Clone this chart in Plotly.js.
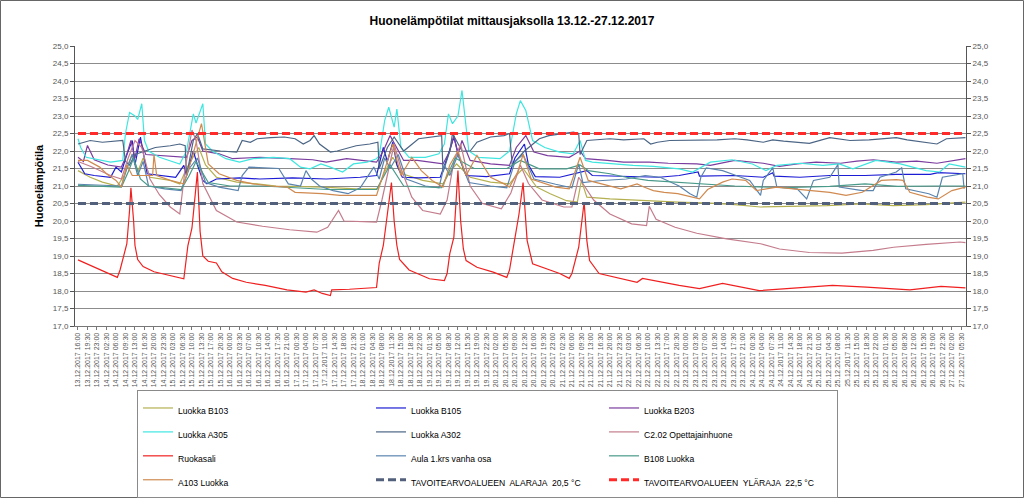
<!DOCTYPE html>
<html>
<head>
<meta charset="utf-8">
<script src="https://cdn.plot.ly/plotly-3.0.1.min.js"></script>
<style>html,body{margin:0;padding:0;background:#fff;}#chart{width:1024px;height:498px;}</style>
</head>
<body>
<div id="chart"></div>
<script>
const FONT = "'Liberation Sans Narrow','Arial Narrow','Liberation Sans',Arial,sans-serif";

const seriesNames = ["Luokka B103","Luokka B105","Luokka B203","Luokka A305","Luokka A302","C2.02 Opettajainhuone","Ruokasali","Aula 1.krs vanha osa","B108 Luokka","A103 Luokka"];
const seriesColors = ["#b4b050","#1c1cd4","#7a3c9e","#3fe6e0","#4b6585","#c47c8c","#f02020","#5a84ae","#4a9a8a","#d08a50"];
const limitNames = ["TAVOITEARVOALUEEN  ALARAJA  20,5 °C","TAVOITEARVOALUEEN  YLÄRAJA  22,5 °C"];
const limitValues = [20.5, 22.5];
const limitColors = ["#52607c","#ff2a2a"];

const b103 = [["2017-12-13 16:00",21.44],["2017-12-13 20:30",21.25],["2017-12-14 01:00",21.11],["2017-12-14 06:30",21.0],["2017-12-14 09:00",21.3],["2017-12-14 12:00",21.92],["2017-12-14 14:00",21.4],["2017-12-14 16:00",21.8],["2017-12-14 18:30",21.25],["2017-12-15 02:00",21.16],["2017-12-15 05:30",21.06],["2017-12-15 08:00",21.5],["2017-12-15 12:30",22.1],["2017-12-15 15:00",21.6],["2017-12-15 19:00",21.25],["2017-12-16 02:30",21.11],["2017-12-16 10:00",21.06],["2017-12-16 17:00",21.0],["2017-12-17 00:00",20.99],["2017-12-17 10:00",20.97],["2017-12-17 22:30",20.92],["2017-12-18 06:30",20.92],["2017-12-18 09:00",21.4],["2017-12-18 12:00",21.82],["2017-12-18 15:30",21.35],["2017-12-18 23:00",21.16],["2017-12-19 06:30",21.06],["2017-12-19 09:00",21.4],["2017-12-19 11:30",21.63],["2017-12-19 16:30",21.25],["2017-12-20 00:00",21.11],["2017-12-20 07:00",21.06],["2017-12-20 09:30",21.3],["2017-12-20 12:00",21.5],["2017-12-20 17:00",20.97],["2017-12-20 22:00",20.78],["2017-12-21 04:00",20.58],["2017-12-21 08:00",20.54],["2017-12-21 09:30",21.16],["2017-12-21 11:30",20.68],["2017-12-21 20:00",20.63],["2017-12-22 08:30",20.58],["2017-12-22 21:00",20.54],["2017-12-23 09:00",20.51],["2017-12-23 18:00",20.47],["2017-12-24 03:30",20.4],["2017-12-24 15:30",20.41],["2017-12-25 04:00",20.44],["2017-12-25 16:30",20.49],["2017-12-26 04:30",20.44],["2017-12-26 16:30",20.47],["2017-12-27 07:00",20.54]];

const b105 = [["2017-12-13 16:00",21.68],["2017-12-13 18:30",21.35],["2017-12-13 22:00",21.3],["2017-12-14 04:00",21.25],["2017-12-14 06:00",21.54],["2017-12-14 08:00",21.4],["2017-12-14 10:00",21.9],["2017-12-14 12:00",22.3],["2017-12-14 13:00",21.6],["2017-12-14 15:00",22.4],["2017-12-14 17:30",21.35],["2017-12-14 22:00",21.3],["2017-12-15 04:00",21.25],["2017-12-15 07:00",21.59],["2017-12-15 08:00",21.3],["2017-12-15 10:30",22.0],["2017-12-15 12:00",21.6],["2017-12-15 14:00",21.16],["2017-12-15 15:30",21.06],["2017-12-15 19:00",21.2],["2017-12-16 03:30",21.23],["2017-12-16 11:00",21.2],["2017-12-16 23:00",21.23],["2017-12-17 11:30",21.2],["2017-12-18 00:00",21.25],["2017-12-18 06:00",21.3],["2017-12-18 08:30",22.1],["2017-12-18 10:00",21.7],["2017-12-18 12:00",22.25],["2017-12-18 13:30",21.6],["2017-12-18 15:30",21.25],["2017-12-18 21:30",21.23],["2017-12-19 05:30",21.25],["2017-12-19 08:00",21.8],["2017-12-19 10:30",22.4],["2017-12-19 12:30",21.8],["2017-12-19 15:00",21.3],["2017-12-19 22:30",21.27],["2017-12-20 07:00",21.35],["2017-12-20 09:00",21.8],["2017-12-20 12:30",22.2],["2017-12-20 14:00",21.6],["2017-12-20 16:30",21.27],["2017-12-21 01:30",21.25],["2017-12-21 11:30",21.44],["2017-12-21 13:30",21.3],["2017-12-22 02:30",21.27],["2017-12-22 14:00",21.25],["2017-12-22 21:30",21.3],["2017-12-23 04:30",21.4],["2017-12-23 05:00",21.28],["2017-12-23 18:00",21.3],["2017-12-24 04:30",21.25],["2017-12-24 08:00",21.38],["2017-12-24 08:30",21.28],["2017-12-24 18:00",21.25],["2017-12-25 05:00",21.3],["2017-12-25 18:00",21.3],["2017-12-26 05:30",21.33],["2017-12-26 18:00",21.33],["2017-12-26 21:00",21.38],["2017-12-27 07:00",21.35]];

const b203 = [["2017-12-13 16:00",21.82],["2017-12-13 18:00",21.7],["2017-12-13 19:30",22.16],["2017-12-13 22:00",21.75],["2017-12-14 03:00",21.6],["2017-12-14 08:00",21.54],["2017-12-14 10:00",21.9],["2017-12-14 11:30",22.3],["2017-12-14 13:00",21.8],["2017-12-14 14:30",22.35],["2017-12-14 17:00",21.9],["2017-12-15 00:00",21.87],["2017-12-15 08:00",21.82],["2017-12-15 10:00",22.3],["2017-12-15 12:00",22.4],["2017-12-15 14:00",22.0],["2017-12-15 20:00",21.92],["2017-12-16 01:00",21.78],["2017-12-16 11:00",21.82],["2017-12-16 22:00",21.78],["2017-12-17 06:30",21.75],["2017-12-17 11:30",21.68],["2017-12-17 19:00",21.78],["2017-12-18 06:00",21.68],["2017-12-18 08:30",22.0],["2017-12-18 11:00",22.44],["2017-12-18 13:30",22.1],["2017-12-18 16:00",21.73],["2017-12-18 21:00",21.73],["2017-12-19 01:30",21.68],["2017-12-19 06:30",21.63],["2017-12-19 09:00",22.0],["2017-12-19 10:30",22.44],["2017-12-19 12:00",21.9],["2017-12-19 13:30",22.3],["2017-12-19 16:30",21.73],["2017-12-20 00:00",21.63],["2017-12-20 07:00",21.59],["2017-12-20 09:30",22.1],["2017-12-20 13:00",22.44],["2017-12-20 16:00",21.97],["2017-12-20 21:00",21.87],["2017-12-21 05:00",21.82],["2017-12-21 09:00",22.0],["2017-12-21 11:00",21.78],["2017-12-21 19:00",21.73],["2017-12-22 01:00",21.68],["2017-12-22 10:30",21.68],["2017-12-22 17:30",21.65],["2017-12-23 04:00",21.63],["2017-12-23 09:00",21.59],["2017-12-23 18:00",21.73],["2017-12-24 04:30",21.65],["2017-12-24 10:30",21.56],["2017-12-24 17:00",21.63],["2017-12-25 00:00",21.68],["2017-12-25 09:00",21.65],["2017-12-25 15:00",21.71],["2017-12-25 21:00",21.75],["2017-12-26 05:30",21.68],["2017-12-26 13:00",21.71],["2017-12-26 20:30",21.65],["2017-12-27 07:00",21.78]];

const a305 = [["2017-12-13 16:00",22.35],["2017-12-13 17:00",22.1],["2017-12-13 19:00",21.82],["2017-12-14 04:00",21.68],["2017-12-14 08:30",21.73],["2017-12-14 09:30",22.5],["2017-12-14 11:00",23.1],["2017-12-14 12:00",23.06],["2017-12-14 13:00",23.0],["2017-12-14 14:00",22.9],["2017-12-14 15:30",23.35],["2017-12-14 16:30",22.3],["2017-12-14 18:00",22.0],["2017-12-14 22:00",21.82],["2017-12-15 02:00",21.73],["2017-12-15 05:30",21.63],["2017-12-15 08:00",22.0],["2017-12-15 10:30",23.06],["2017-12-15 11:30",22.8],["2017-12-15 14:00",23.35],["2017-12-15 15:00",22.2],["2017-12-15 17:30",22.0],["2017-12-15 22:30",21.78],["2017-12-16 03:30",21.68],["2017-12-16 08:30",21.78],["2017-12-16 16:00",21.82],["2017-12-16 22:00",21.78],["2017-12-17 02:00",21.54],["2017-12-17 05:30",21.49],["2017-12-17 09:30",21.63],["2017-12-17 13:00",21.54],["2017-12-17 17:30",21.4],["2017-12-17 21:30",21.63],["2017-12-18 02:30",21.68],["2017-12-18 06:00",21.78],["2017-12-18 07:00",21.87],["2017-12-18 09:00",22.87],["2017-12-18 10:30",23.25],["2017-12-18 12:30",22.68],["2017-12-18 13:30",23.2],["2017-12-18 15:00",22.1],["2017-12-18 18:00",21.82],["2017-12-19 00:00",21.82],["2017-12-19 05:00",21.92],["2017-12-19 07:00",22.2],["2017-12-19 08:30",23.06],["2017-12-19 10:00",22.78],["2017-12-19 12:00",23.0],["2017-12-19 13:30",23.73],["2017-12-19 16:00",22.0],["2017-12-19 19:30",21.82],["2017-12-20 03:30",21.78],["2017-12-20 07:00",22.0],["2017-12-20 09:30",23.06],["2017-12-20 11:00",23.44],["2017-12-20 13:00",23.16],["2017-12-20 15:30",22.3],["2017-12-20 20:00",22.1],["2017-12-21 01:30",21.97],["2017-12-21 06:30",21.92],["2017-12-21 09:00",22.3],["2017-12-21 11:00",21.73],["2017-12-21 13:30",21.68],["2017-12-21 21:00",21.63],["2017-12-22 04:30",21.59],["2017-12-22 12:00",21.56],["2017-12-22 21:30",21.49],["2017-12-23 02:30",21.4],["2017-12-23 09:00",21.68],["2017-12-23 17:00",21.75],["2017-12-24 00:30",21.63],["2017-12-24 05:30",21.44],["2017-12-24 09:30",21.59],["2017-12-24 18:00",21.65],["2017-12-25 02:30",21.59],["2017-12-25 08:30",21.63],["2017-12-25 13:30",21.49],["2017-12-25 22:00",21.73],["2017-12-26 07:00",21.63],["2017-12-26 16:30",21.44],["2017-12-26 21:30",21.4],["2017-12-27 01:00",21.63],["2017-12-27 07:00",21.54]];

const a302 = [["2017-12-13 16:00",22.2],["2017-12-13 20:30",22.3],["2017-12-14 01:00",22.25],["2017-12-14 06:30",22.3],["2017-12-14 08:30",22.3],["2017-12-14 09:30",21.7],["2017-12-14 11:00",21.6],["2017-12-14 13:00",21.9],["2017-12-14 17:00",22.0],["2017-12-14 20:30",22.1],["2017-12-15 02:00",22.15],["2017-12-15 05:30",22.2],["2017-12-15 07:30",22.15],["2017-12-15 08:00",21.3],["2017-12-15 10:30",22.3],["2017-12-15 12:00",22.5],["2017-12-15 14:00",22.06],["2017-12-15 20:30",22.0],["2017-12-16 02:30",21.97],["2017-12-16 04:30",22.3],["2017-12-16 07:30",22.25],["2017-12-16 10:00",22.35],["2017-12-16 15:00",22.38],["2017-12-16 20:00",22.4],["2017-12-17 00:00",22.35],["2017-12-17 03:00",22.2],["2017-12-17 05:30",22.3],["2017-12-17 07:00",22.44],["2017-12-17 09:00",22.2],["2017-12-17 13:00",21.97],["2017-12-17 15:30",22.0],["2017-12-17 22:30",22.15],["2017-12-18 03:30",22.2],["2017-12-18 06:30",22.25],["2017-12-18 07:00",21.5],["2017-12-18 10:00",22.1],["2017-12-18 12:30",22.4],["2017-12-18 16:00",22.0],["2017-12-18 21:30",22.35],["2017-12-19 03:00",22.4],["2017-12-19 06:00",22.44],["2017-12-19 06:30",21.4],["2017-12-19 09:00",22.0],["2017-12-19 10:00",22.5],["2017-12-19 13:30",22.0],["2017-12-19 16:30",22.0],["2017-12-19 19:00",22.25],["2017-12-20 00:00",22.4],["2017-12-20 05:00",22.44],["2017-12-20 07:00",22.5],["2017-12-20 08:00",21.6],["2017-12-20 12:30",22.0],["2017-12-20 18:00",22.35],["2017-12-20 21:30",22.44],["2017-12-21 03:00",22.5],["2017-12-21 06:30",22.54],["2017-12-21 08:30",22.5],["2017-12-21 09:00",21.9],["2017-12-21 11:30",22.3],["2017-12-21 15:00",22.32],["2017-12-21 20:00",22.35],["2017-12-22 01:00",22.32],["2017-12-22 08:30",22.35],["2017-12-22 11:00",22.2],["2017-12-22 13:30",22.25],["2017-12-22 18:00",22.3],["2017-12-23 04:00",22.3],["2017-12-23 11:30",22.32],["2017-12-23 18:00",22.35],["2017-12-23 22:30",22.32],["2017-12-24 04:30",22.25],["2017-12-24 08:00",22.32],["2017-12-24 12:00",22.28],["2017-12-24 21:30",22.22],["2017-12-25 05:00",22.38],["2017-12-25 12:30",22.3],["2017-12-25 19:30",22.32],["2017-12-26 05:30",22.38],["2017-12-26 09:30",22.32],["2017-12-26 20:30",22.2],["2017-12-27 00:00",22.35],["2017-12-27 07:00",22.38]];

const c202 = [["2017-12-13 16:00",21.7],["2017-12-13 21:00",21.55],["2017-12-14 04:00",21.3],["2017-12-14 08:00",21.2],["2017-12-14 10:30",21.8],["2017-12-14 13:00",22.3],["2017-12-14 15:30",22.1],["2017-12-14 18:30",21.2],["2017-12-14 22:00",20.75],["2017-12-15 02:00",20.4],["2017-12-15 05:30",20.2],["2017-12-15 07:30",21.5],["2017-12-15 10:00",22.6],["2017-12-15 11:30",22.3],["2017-12-15 14:00",21.07],["2017-12-15 19:00",20.3],["2017-12-16 02:30",19.97],["2017-12-16 12:00",19.85],["2017-12-16 22:00",19.75],["2017-12-17 08:00",19.68],["2017-12-17 12:00",19.82],["2017-12-17 16:00",20.3],["2017-12-17 18:00",20.0],["2017-12-18 06:00",19.97],["2017-12-18 08:00",20.6],["2017-12-18 10:30",21.5],["2017-12-18 12:30",22.2],["2017-12-18 15:00",21.5],["2017-12-18 19:00",20.68],["2017-12-18 23:00",20.3],["2017-12-19 05:30",20.2],["2017-12-19 08:00",20.6],["2017-12-19 10:30",21.7],["2017-12-19 13:00",22.2],["2017-12-19 16:30",21.0],["2017-12-19 21:00",20.5],["2017-12-20 04:00",20.35],["2017-12-20 07:30",20.8],["2017-12-20 11:00",21.6],["2017-12-20 14:00",21.07],["2017-12-20 19:00",20.6],["2017-12-21 03:00",20.4],["2017-12-21 06:00",20.4],["2017-12-21 08:30",21.25],["2017-12-21 10:30",21.0],["2017-12-21 14:00",20.6],["2017-12-21 20:00",20.2],["2017-12-22 04:00",19.92],["2017-12-22 09:30",19.87],["2017-12-22 10:30",20.42],["2017-12-22 13:00",20.05],["2017-12-22 20:00",19.82],["2017-12-23 04:00",19.65],["2017-12-23 15:00",19.49],["2017-12-24 03:30",19.35],["2017-12-24 10:30",19.2],["2017-12-24 21:30",19.1],["2017-12-25 09:30",19.08],["2017-12-25 21:00",19.16],["2017-12-26 04:30",19.25],["2017-12-26 16:30",19.33],["2017-12-27 05:00",19.4],["2017-12-27 07:00",19.38]];

const ruokasali = [["2017-12-13 16:00",18.89],["2017-12-14 06:30",18.39],["2017-12-14 07:30",18.6],["2017-12-14 09:00",19.1],["2017-12-14 10:00",19.35],["2017-12-14 11:00",20.3],["2017-12-14 11:30",20.95],["2017-12-14 12:30",20.0],["2017-12-14 13:00",19.3],["2017-12-14 14:00",18.9],["2017-12-14 16:00",18.7],["2017-12-14 20:00",18.55],["2017-12-15 02:00",18.45],["2017-12-15 07:00",18.35],["2017-12-15 08:30",19.3],["2017-12-15 10:00",19.8],["2017-12-15 11:00",20.6],["2017-12-15 12:00",21.4],["2017-12-15 13:00",19.7],["2017-12-15 14:00",19.0],["2017-12-15 16:00",18.85],["2017-12-15 19:00",18.8],["2017-12-15 21:00",18.55],["2017-12-16 01:00",18.36],["2017-12-16 06:00",18.25],["2017-12-16 13:00",18.16],["2017-12-16 21:00",18.03],["2017-12-17 04:00",17.97],["2017-12-17 07:00",18.03],["2017-12-17 10:00",17.93],["2017-12-17 13:00",17.87],["2017-12-17 13:30",18.03],["2017-12-17 20:00",18.05],["2017-12-18 06:00",18.1],["2017-12-18 07:00",18.8],["2017-12-18 08:30",19.3],["2017-12-18 10:00",20.2],["2017-12-18 11:30",21.1],["2017-12-18 12:30",20.0],["2017-12-18 13:30",19.3],["2017-12-18 14:30",18.9],["2017-12-18 18:00",18.6],["2017-12-19 01:30",18.35],["2017-12-19 07:00",18.3],["2017-12-19 08:00",18.5],["2017-12-19 09:00",19.07],["2017-12-19 10:30",19.54],["2017-12-19 11:00",20.3],["2017-12-19 12:00",21.44],["2017-12-19 13:00",20.0],["2017-12-19 14:00",19.2],["2017-12-19 15:00",18.87],["2017-12-19 19:00",18.68],["2017-12-20 01:00",18.54],["2017-12-20 06:00",18.39],["2017-12-20 07:00",18.6],["2017-12-20 09:30",19.82],["2017-12-20 10:30",20.2],["2017-12-20 12:00",21.1],["2017-12-20 13:30",19.44],["2017-12-20 15:30",18.78],["2017-12-20 20:30",18.64],["2017-12-21 01:30",18.5],["2017-12-21 05:00",18.36],["2017-12-21 06:00",18.5],["2017-12-21 08:30",19.25],["2017-12-21 10:00",20.3],["2017-12-21 10:30",20.54],["2017-12-21 11:30",19.44],["2017-12-21 12:30",18.87],["2017-12-21 16:00",18.5],["2017-12-21 23:30",18.36],["2017-12-22 06:00",18.25],["2017-12-22 08:00",18.36],["2017-12-22 12:00",18.3],["2017-12-22 14:30",18.25],["2017-12-22 21:30",18.16],["2017-12-23 05:00",18.07],["2017-12-23 13:30",18.22],["2017-12-24 03:00",18.01],["2017-12-24 15:00",18.07],["2017-12-25 06:00",18.16],["2017-12-25 18:30",18.11],["2017-12-26 10:30",18.03],["2017-12-26 22:00",18.13],["2017-12-27 07:00",18.09]];

const aula = [["2017-12-13 16:00",21.05],["2017-12-14 08:00",21.0],["2017-12-14 10:00",21.5],["2017-12-14 12:00",21.9],["2017-12-14 14:00",21.3],["2017-12-14 16:00",21.7],["2017-12-14 18:00",21.0],["2017-12-15 00:00",20.92],["2017-12-15 06:00",20.87],["2017-12-15 09:00",21.5],["2017-12-15 12:00",21.8],["2017-12-15 15:00",21.1],["2017-12-15 20:00",20.97],["2017-12-16 03:00",20.87],["2017-12-16 04:30",21.3],["2017-12-16 07:00",21.54],["2017-12-16 18:00",21.5],["2017-12-16 21:30",21.06],["2017-12-17 02:00",21.0],["2017-12-17 04:00",21.44],["2017-12-17 06:00",21.2],["2017-12-17 09:00",21.0],["2017-12-17 14:00",20.87],["2017-12-17 19:30",20.78],["2017-12-18 00:00",20.95],["2017-12-18 05:00",21.54],["2017-12-18 07:00",21.2],["2017-12-18 09:00",21.8],["2017-12-18 11:00",21.5],["2017-12-18 14:00",21.9],["2017-12-18 17:00",21.2],["2017-12-19 00:00",21.0],["2017-12-19 05:00",20.95],["2017-12-19 07:00",21.6],["2017-12-19 09:00",21.3],["2017-12-19 12:00",21.9],["2017-12-19 16:00",21.1],["2017-12-20 00:00",21.0],["2017-12-20 06:00",20.95],["2017-12-20 09:00",21.7],["2017-12-20 12:00",21.9],["2017-12-20 16:00",21.2],["2017-12-21 00:00",21.05],["2017-12-21 06:00",20.95],["2017-12-21 08:30",21.63],["2017-12-21 10:00",21.1],["2017-12-21 16:00",21.15],["2017-12-22 02:00",21.2],["2017-12-22 09:00",21.3],["2017-12-22 14:30",21.25],["2017-12-22 21:30",21.0],["2017-12-23 01:30",20.78],["2017-12-23 04:00",20.68],["2017-12-23 05:30",21.25],["2017-12-23 07:30",21.52],["2017-12-23 13:30",21.44],["2017-12-23 18:30",21.3],["2017-12-23 23:30",21.16],["2017-12-24 03:30",20.73],["2017-12-24 04:30",21.16],["2017-12-24 08:00",21.52],["2017-12-24 09:30",20.97],["2017-12-24 17:00",20.92],["2017-12-24 20:30",20.63],["2017-12-24 23:00",21.16],["2017-12-25 05:00",21.25],["2017-12-25 08:00",21.61],["2017-12-25 08:30",20.97],["2017-12-25 17:00",20.87],["2017-12-25 21:00",20.87],["2017-12-25 23:30",21.25],["2017-12-26 05:30",21.4],["2017-12-26 07:30",21.52],["2017-12-26 09:00",20.92],["2017-12-26 17:30",20.78],["2017-12-26 20:30",20.68],["2017-12-26 22:30",21.25],["2017-12-27 06:00",21.35],["2017-12-27 06:30",20.92]];

const b108 = [["2017-12-13 16:00",21.02],["2017-12-14 08:00",20.97],["2017-12-14 10:30",21.4],["2017-12-14 12:30",21.8],["2017-12-14 15:00",21.2],["2017-12-14 18:00",21.0],["2017-12-15 06:00",20.9],["2017-12-15 09:00",21.3],["2017-12-15 11:30",21.7],["2017-12-15 16:00",21.1],["2017-12-16 00:00",21.0],["2017-12-16 12:00",21.0],["2017-12-17 00:00",20.95],["2017-12-17 12:00",20.9],["2017-12-18 06:00",20.9],["2017-12-18 11:00",21.6],["2017-12-18 16:00",21.0],["2017-12-19 06:00",20.95],["2017-12-19 11:00",21.8],["2017-12-19 18:00",21.5],["2017-12-20 06:00",21.5],["2017-12-20 11:00",21.73],["2017-12-20 18:00",21.49],["2017-12-21 04:00",21.49],["2017-12-21 09:00",21.6],["2017-12-21 12:00",21.44],["2017-12-21 20:00",21.35],["2017-12-22 02:00",21.25],["2017-12-22 10:00",21.16],["2017-12-22 20:00",21.11],["2017-12-23 09:00",21.06],["2017-12-23 18:00",21.0],["2017-12-24 12:00",20.95],["2017-12-25 05:00",20.99],["2017-12-25 18:00",21.06],["2017-12-26 06:00",20.99],["2017-12-26 20:00",21.0],["2017-12-27 07:00",21.0]];

const a103 = [["2017-12-13 16:00",21.73],["2017-12-13 19:30",21.73],["2017-12-14 00:00",21.54],["2017-12-14 02:30",21.35],["2017-12-14 06:00",21.16],["2017-12-14 08:00",20.97],["2017-12-14 10:00",21.6],["2017-12-14 12:00",21.3],["2017-12-14 19:30",21.3],["2017-12-14 20:00",21.9],["2017-12-14 21:00",21.3],["2017-12-15 02:00",21.16],["2017-12-15 07:00",21.06],["2017-12-15 10:00",21.8],["2017-12-15 13:30",22.78],["2017-12-15 16:00",21.63],["2017-12-15 20:00",21.35],["2017-12-16 02:30",21.16],["2017-12-16 08:30",21.06],["2017-12-16 15:00",21.0],["2017-12-16 21:00",20.97],["2017-12-17 00:00",20.82],["2017-12-17 10:00",20.78],["2017-12-17 16:30",20.73],["2017-12-18 06:00",20.73],["2017-12-18 09:00",21.5],["2017-12-18 12:00",22.2],["2017-12-18 15:00",21.3],["2017-12-18 19:00",21.82],["2017-12-18 22:30",21.44],["2017-12-19 02:30",21.16],["2017-12-19 06:30",20.97],["2017-12-19 09:00",21.6],["2017-12-19 12:00",22.0],["2017-12-19 15:00",21.3],["2017-12-19 19:00",21.87],["2017-12-20 00:00",21.25],["2017-12-20 05:00",21.06],["2017-12-20 07:00",20.97],["2017-12-20 10:00",21.4],["2017-12-20 12:00",21.9],["2017-12-20 15:00",21.2],["2017-12-21 00:00",20.97],["2017-12-21 05:00",20.92],["2017-12-21 09:00",21.82],["2017-12-21 12:00",21.16],["2017-12-22 00:00",20.92],["2017-12-22 06:00",21.06],["2017-12-22 08:30",20.97],["2017-12-22 12:00",20.87],["2017-12-22 16:00",20.82],["2017-12-22 21:00",20.78],["2017-12-23 02:00",20.68],["2017-12-23 05:00",20.63],["2017-12-23 08:00",20.9],["2017-12-23 13:30",21.11],["2017-12-23 17:00",21.2],["2017-12-23 22:00",21.16],["2017-12-24 02:00",20.87],["2017-12-24 09:30",20.97],["2017-12-24 15:30",20.92],["2017-12-25 05:00",20.82],["2017-12-25 11:00",20.73],["2017-12-25 17:00",20.82],["2017-12-26 00:00",21.16],["2017-12-26 05:30",21.18],["2017-12-26 08:00",21.16],["2017-12-26 10:30",20.82],["2017-12-26 17:00",20.68],["2017-12-26 21:00",20.63],["2017-12-27 02:00",20.87],["2017-12-27 07:00",20.97]];

const seriesData = [b103, b105, b203, a305, a302, c202, ruokasali, aula, b108, a103];

const startTime = "2017-12-13 16:00";
const endTime = "2017-12-27 07:00";

const legendLabel = t => '<span style="font-size:8.6px">' + t + '</span>';

const traces = seriesData.map((d, i) => ({
  type: 'scatter', mode: 'lines',
  x: d.map(p => p[0]), y: d.map(p => p[1]),
  name: legendLabel(seriesNames[i]),
  line: {color: seriesColors[i], width: 1.2},
  hoverinfo: 'skip'
}));

limitValues.forEach((v, i) => {
  traces.push({
    type: 'scatter', mode: 'lines', yaxis: 'y2',
    x: [startTime, endTime], y: [v, v],
    name: legendLabel(limitNames[i]),
    line: {color: limitColors[i], width: 3.2, dash: '8px,4px'},
    hoverinfo: 'skip'
  });
});

const tickFont = {family: FONT, size: 8, color: '#555'};

const layout = {
  width: 1024, height: 498,
  margin: {l: 75, r: 58, t: 46, b: 172, autoexpand: false},
  paper_bgcolor: '#fff', plot_bgcolor: '#fff',
  separators: ', ',
  showlegend: true,
  title: {text: 'Huonelämpötilat mittausjaksolla 13.12.-27.12.2017', x: 0.5, xanchor: 'center', y: 0.958, yanchor: 'middle',
          font: {family: FONT, size: 12, color: '#000', weight: 700}},
  xaxis: {
    type: 'date', range: ['2017-12-13 14:54', '2017-12-27 07:12'],
    tick0: startTime, dtick: 12600000, tickformat: '%d.%m.%Y %H:%M',
    tickangle: -90, tickfont: {family: "'Liberation Sans',Arial,sans-serif", size: 7, color: '#555'},
    showgrid: false, showline: true, linecolor: '#777', linewidth: 1,
    ticks: 'outside', ticklen: 3, tickcolor: '#777', zeroline: false, automargin: false, fixedrange: true
  },
  yaxis: {
    range: [17, 25], dtick: 0.5, tick0: 17, tickformat: '.1f',
    tickfont: tickFont, showgrid: true, gridcolor: '#8c8c8c', gridwidth: 1,
    showline: true, linecolor: '#555', linewidth: 1, ticks: 'outside', ticklen: 4, tickcolor: '#555',
    zeroline: false, automargin: false, fixedrange: true,
    title: {text: 'Huonelämpötila', font: {family: FONT, size: 11, color: '#000', weight: 700}, standoff: 6}
  },
  yaxis2: {
    overlaying: 'y', side: 'right', range: [17, 25], dtick: 0.5, tick0: 17, tickformat: '.1f',
    tickfont: tickFont, showgrid: false, showline: true, linecolor: '#555', linewidth: 1,
    ticks: 'outside', ticklen: 4, tickcolor: '#555', zeroline: false, automargin: false, fixedrange: true
  },
  legend: {
    orientation: 'h', x: 0.0696, xanchor: 'left', y: -0.2286, yanchor: 'top',
    bgcolor: '#fff', bordercolor: '#8a8a8a', borderwidth: 1,
    font: {family: FONT, size: 16.1, color: '#000'},
    entrywidth: 188, entrywidthmode: 'pixels', itemwidth: 30, traceorder: 'normal'
  },
  shapes: [{
    type: 'rect', xref: 'paper', yref: 'paper',
    x0: -74.5/891, x1: 948.5/891, y0: -171.5/280, y1: 325.5/280,
    line: {color: '#666', width: 1}, fillcolor: 'rgba(0,0,0,0)', layer: 'below'
  }]
};

Plotly.newPlot('chart', traces, layout, {displayModeBar: false, staticPlot: true});
</script>
</body>
</html>
